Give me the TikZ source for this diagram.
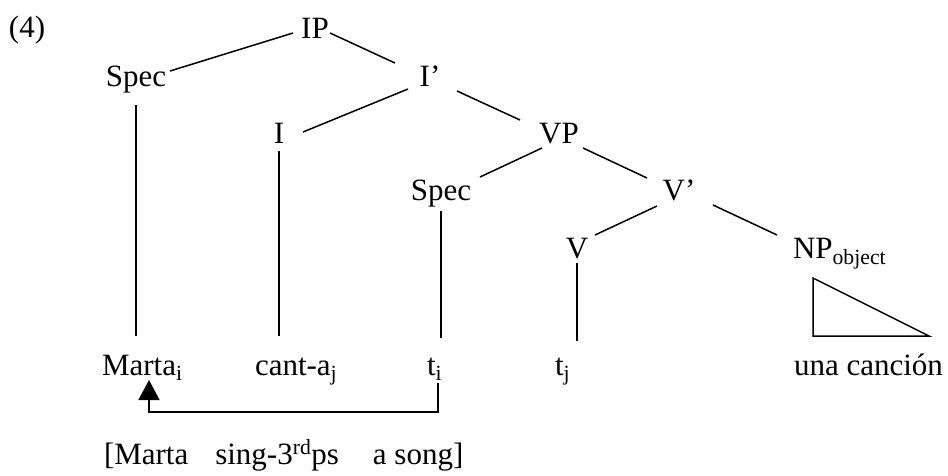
\documentclass[tikz,border=0pt]{standalone}
\usepackage{fontspec}
\setmainfont{Liberation Serif}
\usetikzlibrary{calc,arrows.meta}
\begin{document}
\begin{tikzpicture}[x=1pt,y=-1pt,
  every node/.style={font=\fontsize{31}{37}\selectfont, inner sep=0pt, outer sep=0pt},
  lbl/.style={anchor=base},
  lblw/.style={anchor=base west},
  edge/.style={line width=1.5pt},
  mv/.style={line width=1.5pt, -{Triangle[width=21pt,length=20pt]}}]
\useasboundingbox (0,0) rectangle (948,475);
% labels
\node[lblw] (num) at (9,37) {(4)};
\node[lbl] (IP) at (315,38) {IP};
\node[lbl] (Spec1) at (136,86) {Spec};
\node[lbl] (Ib) at (430,86) {I’};
\node[lbl] (I) at (279,143) {I};
\node[lbl] (VP) at (559,143) {VP};
\node[lbl] (Spec2) at (441,200) {Spec};
\node[lbl] (Vb) at (679,200) {V’};
\node[lbl] (V) at (577,258) {V};
\node[lblw] (NP) at (793,258) {NP\textsubscript{object}};
\node[lblw] (Marta) at (102,375) {Marta\textsubscript{i}};
\node[lblw] (canta) at (255,375) {cant-a\textsubscript{j}};
\node[lblw] (ti) at (427,375) {t\textsubscript{i}};
\node[lblw] (tj) at (555,375) {t\textsubscript{j}};
\node[lblw] (una) at (794,375) {una canción};
\node[lblw] (gloss) at (104,464) {[Marta\hspace{27pt}sing-3\textsuperscript{rd}ps\hspace{34pt}a song]};
% branches
\draw[edge] ($(IP.base)+(-22,-5)$) -- ($(Spec1.base)+(34,-15)$);
\draw[edge] ($(IP.base)+(15,-5)$) -- ($(Ib.base)+(-35,-23)$);
\draw[edge] ($(Ib.base)+(-22,3)$) -- ($(I.base)+(24,-11)$);
\draw[edge] ($(Ib.base)+(27,5)$) -- ($(VP.base)+(-39,-23)$);
\draw[edge] ($(VP.base)+(-17,5)$) -- ($(Spec2.base)+(39,-23)$);
\draw[edge] ($(VP.base)+(24,5)$) -- ($(Vb.base)+(-32,-22)$);
\draw[edge] ($(Vb.base)+(-22,6)$) -- ($(V.base)+(18,-23)$);
\draw[edge] ($(Vb.base)+(34,5)$) -- ($(NP.base west)+(-16,-23)$);
% vertical lines
\draw[edge] (Spec1.base |- 0,105) -- (Spec1.base |- 0,336);
\draw[edge] (I.base |- 0,151) -- (I.base |- 0,336);
\draw[edge] (Spec2.base |- 0,211) -- (Spec2.base |- 0,338);
\draw[edge] (V.base |- 0,263) -- (V.base |- 0,341);
% triangle
\draw[edge, line join=miter] ($(NP.base west)+(20,20)$) -- ++(0,58) -- ++(116,0) -- cycle;
% movement arrow
\draw[mv] ($(ti.base west)+(11,8)$) -- ++(0,29) -| ($(Marta.base west)+(47,5)$);
\end{tikzpicture}
\end{document}
